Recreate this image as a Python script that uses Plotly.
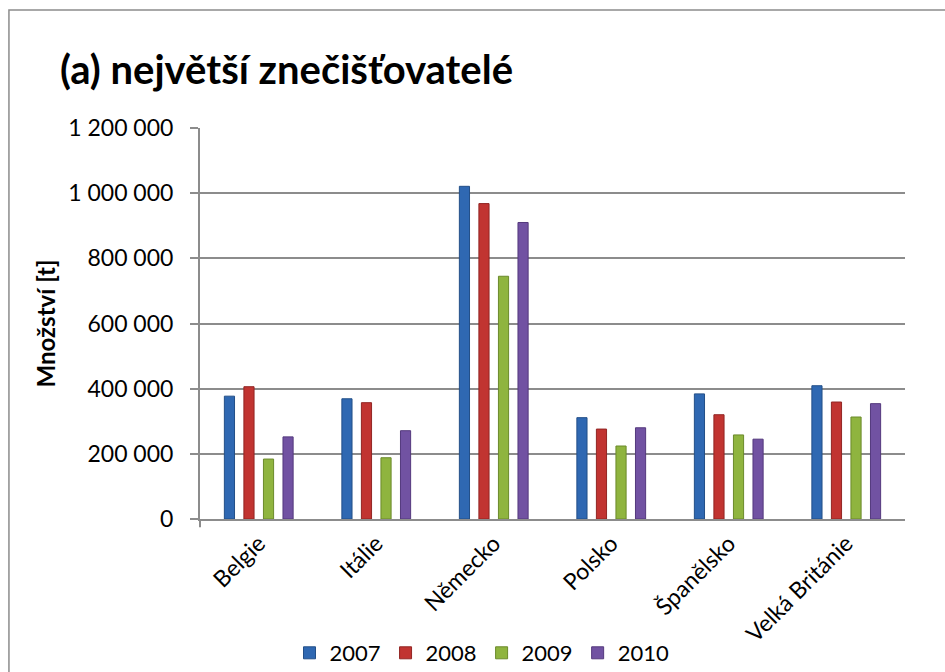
import plotly.graph_objects as go

# Emissions of the largest polluters, tonnes per year
countries = ["Belgie", "Itálie", "Německo", "Polsko", "Španělsko", "Velká Británie"]
years = ["2007", "2008", "2009", "2010"]
values_2007 = [377000, 369000, 1021000, 311000, 384000, 409000]
values_2008 = [406000, 357000, 968000, 276000, 320000, 359000]
values_2009 = [184000, 188000, 745000, 224000, 258000, 313000]
values_2010 = [252000, 271000, 910000, 280000, 245000, 354000]
y_ticks = [0, 200000, 400000, 600000, 800000, 1000000, 1200000]
y_tick_labels = ["0", "200 000", "400 000", "600 000", "800 000", "1 000 000", "1 200 000"]

series = [values_2007, values_2008, values_2009, values_2010]
fill_colors = ["#2f68b2", "#c13431", "#8fb43f", "#7152a2"]
edge_colors = ["#234f88", "#922523", "#6b8a2b", "#54397d"]

FONT = "Lato"
AXIS_GRAY = "#8c8c8c"

fig = go.Figure()
for year, vals, fc, ec in zip(years, series, fill_colors, edge_colors):
    fig.add_trace(go.Bar(
        x=countries, y=vals, name=year,
        marker=dict(color=fc, line=dict(color=ec, width=1)),
        hoverinfo="skip",
    ))

fig.update_layout(
    width=945, height=672,
    margin=dict(l=200, r=40, t=128, b=153, autoexpand=False),
    paper_bgcolor="white", plot_bgcolor="white",
    barmode="group", bargap=0.335, bargroupgap=0.48,
    font=dict(family=FONT, size=23, color="black"),
    title=dict(
        text="<b>(a) největší znečišťovatelé</b>",
        x=60 / 945, xanchor="left", y=1 - 70 / 672, yanchor="middle",
        font=dict(family=FONT, size=40, color="black"),
    ),
    showlegend=True,
    legend=dict(
        orientation="h",
        xref="container", x=482 / 945, xanchor="center",
        yref="container", y=1 - 653 / 672, yanchor="middle",
        font=dict(family=FONT, size=22), itemwidth=30, traceorder="normal",
        bgcolor="rgba(0,0,0,0)",
    ),
    xaxis=dict(
        tickangle=-45, showgrid=False, showline=True, linecolor=AXIS_GRAY,
        linewidth=2, ticks="", tickfont=dict(family=FONT, size=23),
        automargin=False, fixedrange=True,
    ),
    yaxis=dict(
        range=[0, 1200000], tickvals=y_ticks, ticktext=y_tick_labels,
        showgrid=True, gridcolor=AXIS_GRAY, gridwidth=1.5,
        showline=True, linecolor=AXIS_GRAY, linewidth=2,
        ticks="outside", ticklen=8, tickcolor=AXIS_GRAY, tickwidth=2,
        ticklabelstandoff=12,
        zeroline=False,
        title=dict(text="<b>Množství [t]</b>", font=dict(family=FONT, size=24), standoff=6),
        tickfont=dict(family=FONT, size=23), automargin=False, fixedrange=True,
    ),
    shapes=[
        # chart frame
        dict(
            type="rect", xref="paper", yref="paper",
            x0=-0.271, x1=1.10, y0=-0.50, y1=1.302,
            line=dict(color=AXIS_GRAY, width=1.5), fillcolor="rgba(0,0,0,0)", layer="below",
        ),
        # value axis continues just below the category axis
        dict(
            type="line", xref="paper", yref="paper",
            x0=0, x1=0, y0=0, y1=-0.021,
            line=dict(color=AXIS_GRAY, width=2),
        ),
    ],
)

fig.write_html("out.html")
